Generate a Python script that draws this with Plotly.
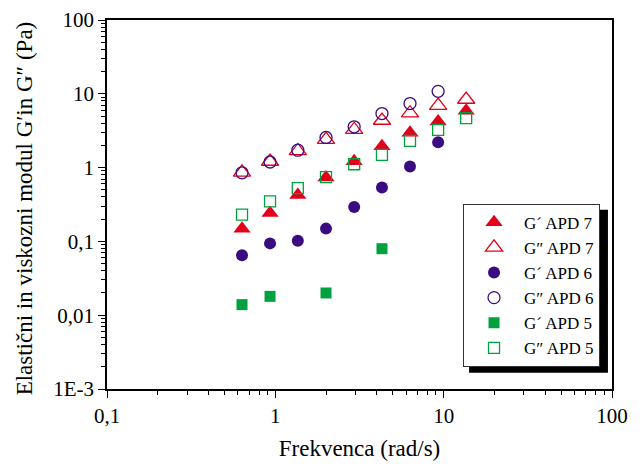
import plotly.graph_objects as go

# Frequencies (rad/s)
freq = [0.634, 0.93, 1.36, 2.0, 2.94, 4.3, 6.31, 9.27, 13.6]

g1_apd7 = [0.148, 0.243, 0.425, 0.734, 1.22, 1.94, 2.96, 4.22, 5.89]
g2_apd7 = [0.86, 1.21, 1.68, 2.39, 3.26, 4.35, 5.46, 6.9, 8.37]
g1_apd6 = [0.065, 0.094, 0.102, 0.149, 0.292, 0.538, 1.035, 2.21]
g2_apd6 = [0.85, 1.19, 1.72, 2.56, 3.57, 5.4, 7.38, 10.8]
freq_apd5_g1 = [0.634, 0.93, 2.0, 4.3]
g1_apd5 = [0.0139, 0.018, 0.020, 0.0796]
g2_apd5 = [0.23, 0.348, 0.527, 0.743, 1.11, 1.49, 2.3, 3.25, 4.68]

x_tickvals = [0.1, 1, 10, 100]
x_ticktext = ["0,1", "1", "10", "100"]
y_tickvals = [0.001, 0.01, 0.1, 1, 10, 100]
y_ticktext = ["1E-3", "0,01", "0,1", "1", "10", "100"]

RED = "#E3001B"
PURPLE = "#3B0C80"
GREEN = "#00A13E"
FONT = "'Liberation Serif', 'Times New Roman', serif"

series = [
    ("G\u00b4 APD 7", freq, g1_apd7, "triangle-up", RED, True, 15),
    ("G\u2033 APD 7", freq, g2_apd7, "triangle-up-open", RED, False, 15),
    ("G\u00b4 APD 6", freq[:8], g1_apd6, "circle", PURPLE, True, 12),
    ("G\u2033 APD 6", freq[:8], g2_apd6, "circle-open", PURPLE, False, 12),
    ("G\u00b4 APD 5", freq_apd5_g1, g1_apd5, "square", GREEN, True, 11),
    ("G\u2033 APD 5", freq, g2_apd5, "square-open", GREEN, False, 11),
]

fig = go.Figure()
for name, xs, ys, sym, col, filled, sz in series:
    fig.add_trace(go.Scatter(
        x=xs, y=ys, mode="markers", name=name,
        marker=dict(symbol=sym, size=sz, color=col,
                    line=dict(width=0 if filled else 1.3, color=col)),
    ))

minor_x = [m * d for d in (0.1, 1, 10) for m in range(2, 10)]
minor_y = [m * d for d in (0.001, 0.01, 0.1, 1, 10) for m in range(2, 10)]

fig.update_xaxes(
    type="log", range=[-1, 2], tickvals=x_tickvals, ticktext=x_ticktext,
    ticks="outside", ticklen=7, tickwidth=1.3, tickcolor="black",
    minor=dict(tickvals=minor_x, ticks="outside", ticklen=4, tickwidth=1, tickcolor="black", showgrid=False),
    showline=True, linecolor="black", linewidth=1.5, mirror=True,
    showgrid=False, zeroline=False, automargin=False,
    tickfont=dict(family=FONT, size=21, color="black"),
    title=dict(text="Frekvenca (rad/s)", font=dict(family=FONT, size=23, color="black"), standoff=13),
)
fig.update_yaxes(
    type="log", range=[-3, 2], tickvals=y_tickvals, ticktext=y_ticktext,
    ticks="outside", ticklen=7, tickwidth=1.3, tickcolor="black",
    minor=dict(tickvals=minor_y, ticks="outside", ticklen=4, tickwidth=1, tickcolor="black", showgrid=False),
    showline=True, linecolor="black", linewidth=1.5, mirror=True,
    showgrid=False, zeroline=False, automargin=False,
    tickfont=dict(family=FONT, size=21, color="black"),
)

fig.add_annotation(
    text="Elastični in viskozni modul G\u2032in G\u2033 (Pa)",
    xref="paper", yref="paper", x=-0.164, y=0.49,
    xanchor="center", yanchor="middle", textangle=-90, showarrow=False,
    font=dict(family=FONT, size=23, color="black"),
)

# legend shadow
fig.add_shape(type="rect", xref="paper", yref="paper", layer="above",
              x0=0.717, x1=0.992, y0=0.044, y1=0.4855,
              fillcolor="black", line=dict(width=0))

fig.update_layout(
    width=640, height=464,
    margin=dict(l=107, r=28, t=20, b=75),
    paper_bgcolor="white", plot_bgcolor="white",
    font=dict(family=FONT, color="black"),
    legend=dict(x=0.705, y=0.502, xanchor="left", yanchor="top",
                bgcolor="white", bordercolor="#333333", borderwidth=1,
                font=dict(family=FONT, size=17, color="black"),
                itemwidth=50, tracegroupgap=0),
    showlegend=True,
)

fig.write_html("out.html", config={"displayModeBar": False},
               post_script="document.body.style.margin='0px';")
